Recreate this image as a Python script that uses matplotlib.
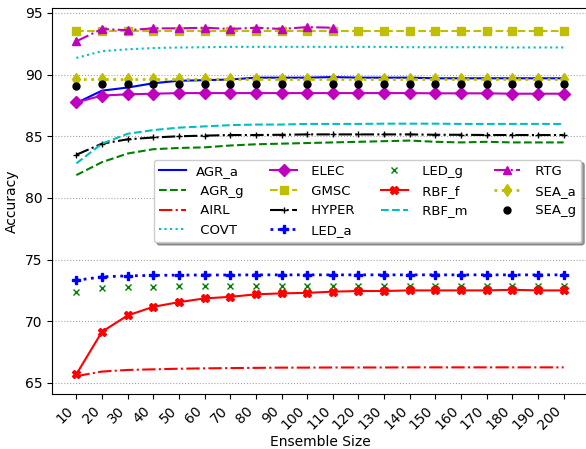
import matplotlib
matplotlib.use("Agg")
import matplotlib.pyplot as plt

sizes = list(range(10, 201, 10))

AGR_a = [87.7, 88.7, 88.95, 89.3, 89.5, 89.55, 89.6, 89.75, 89.75, 89.75, 89.8, 89.75, 89.75, 89.75, 89.7, 89.7, 89.7, 89.7, 89.7, 89.7]
AGR_g = [81.85, 82.9, 83.6, 83.95, 84.05, 84.1, 84.25, 84.35, 84.4, 84.45, 84.5, 84.55, 84.6, 84.65, 84.55, 84.5, 84.55, 84.5, 84.5, 84.5]
AIRL = [65.55, 65.92, 66.05, 66.1, 66.15, 66.18, 66.2, 66.22, 66.24, 66.24, 66.25, 66.25, 66.25, 66.26, 66.26, 66.26, 66.26, 66.26, 66.26, 66.26]
COVT = [91.35, 91.9, 92.05, 92.15, 92.2, 92.22, 92.25, 92.25, 92.25, 92.25, 92.25, 92.25, 92.25, 92.22, 92.22, 92.22, 92.22, 92.2, 92.2, 92.2]
ELEC = [87.75, 88.3, 88.4, 88.45, 88.5, 88.5, 88.5, 88.5, 88.5, 88.5, 88.5, 88.5, 88.5, 88.5, 88.48, 88.48, 88.48, 88.45, 88.45, 88.45]
GMSC = [93.5] * 20
HYPER = [83.5, 84.4, 84.75, 84.9, 85.0, 85.05, 85.1, 85.1, 85.12, 85.15, 85.15, 85.15, 85.15, 85.15, 85.12, 85.12, 85.1, 85.1, 85.1, 85.1]
LED_a = [73.32, 73.6, 73.68, 73.72, 73.74, 73.75, 73.75, 73.76, 73.76, 73.76, 73.76, 73.76, 73.76, 73.76, 73.76, 73.76, 73.76, 73.76, 73.76, 73.76]
LED_g = [72.35, 72.7, 72.76, 72.8, 72.84, 72.86, 72.86, 72.86, 72.86, 72.86, 72.86, 72.86, 72.86, 72.86, 72.86, 72.86, 72.86, 72.86, 72.86, 72.86]
RBF_f = [65.7, 69.15, 70.47, 71.17, 71.55, 71.85, 71.98, 72.18, 72.26, 72.3, 72.4, 72.45, 72.45, 72.5, 72.5, 72.5, 72.5, 72.55, 72.5, 72.5]
RBF_m = [82.8, 84.4, 85.2, 85.5, 85.7, 85.8, 85.9, 85.95, 85.95, 86.0, 86.0, 86.0, 86.02, 86.02, 86.02, 86.0, 86.0, 86.0, 86.0, 86.0]
RTG_sizes = list(range(10, 111, 10))
RTG = [92.7, 93.7, 93.6, 93.75, 93.75, 93.8, 93.7, 93.8, 93.7, 93.85, 93.8]
SEA_a = [89.65] * 20
SEA_g = [89.1, 89.2, 89.2, 89.2, 89.2, 89.2, 89.2, 89.2, 89.2, 89.2, 89.2, 89.2, 89.2, 89.2, 89.2, 89.2, 89.2, 89.2, 89.2, 89.2]

fig = plt.figure(figsize=(5.86, 4.49), dpi=100)
ax = fig.add_axes([52/586, 55/449, (588-52)/586, (394-8)/449])

lw = 1.5
ax.plot(sizes, AGR_a, color='b', linestyle='-', lw=lw, label='AGR_a')
ax.plot(sizes, AGR_g, color='g', linestyle='--', lw=lw, label=' AGR_g')
ax.plot(sizes, AIRL, color='r', linestyle='-.', lw=lw, label=' AIRL')
ax.plot(sizes, COVT, color='c', linestyle=':', lw=lw, label=' COVT')
ax.plot(sizes, ELEC, color='m', linestyle='-', marker='D', ms=6, lw=lw, label=' ELEC')
ax.plot(sizes, GMSC, color='y', linestyle='--', marker='s', ms=6, lw=lw, label=' GMSC')
ax.plot(sizes, HYPER, color='k', linestyle='-.', marker='+', ms=5, lw=lw, label=' HYPER')
ax.plot(sizes, LED_a, color='b', linestyle=':', marker='P', ms=6, lw=2, label=' LED_a')
ax.plot(sizes, LED_g, color='g', linestyle='none', marker='x', ms=5, label=' LED_g')
ax.plot(sizes, RBF_f, color='r', linestyle='-', marker='X', ms=6, lw=lw, label=' RBF_f')
ax.plot(sizes, RBF_m, color='c', linestyle='--', lw=lw, label=' RBF_m')
ax.plot(RTG_sizes, RTG, color='m', linestyle='-.', marker='^', ms=6, lw=lw, label=' RTG')
ax.plot(sizes, SEA_a, color='y', linestyle=':', marker='d', ms=6, lw=2, label=' SEA_a')
ax.plot(sizes, SEA_g, color='k', linestyle='none', marker='o', ms=5, label=' SEA_g')

ax.set_xlim(0.5, 209.5)
ax.set_ylim(64.1, 95.4)
ax.set_xticks(sizes)
ax.set_xticklabels([str(s) for s in sizes], rotation=45, ha='right')
ax.set_yticks([65, 70, 75, 80, 85, 90, 95])
ax.yaxis.grid(True, linestyle=':', color='gray', alpha=0.7)
ax.set_axisbelow(True)
ax.set_xlabel('Ensemble Size', labelpad=2)
ax.set_ylabel('Accuracy')
ax.legend(loc='center right', ncol=4, shadow=True, fancybox=True, fontsize=9.5)

fig.savefig('out.png', dpi=100)
